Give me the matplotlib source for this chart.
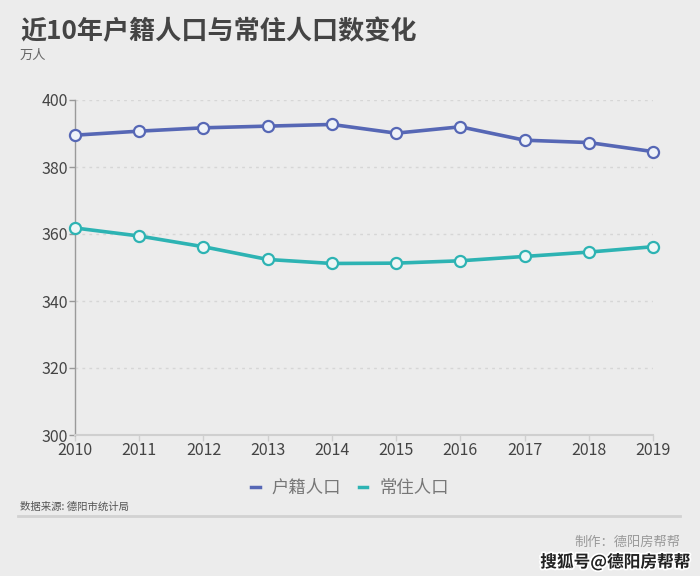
import matplotlib
matplotlib.use("Agg")
import matplotlib.pyplot as plt
import matplotlib.patheffects as pe

plt.rcParams['font.family'] = ['Noto Sans CJK SC', 'DejaVu Sans']

years = [2010, 2011, 2012, 2013, 2014, 2015, 2016, 2017, 2018, 2019]
huji = [389.5, 390.7, 391.7, 392.2, 392.7, 390.1, 392.0, 388.0, 387.3, 384.6]
changzhu = [361.8, 359.4, 356.2, 352.4, 351.2, 351.3, 352.0, 353.3, 354.6, 356.2]
yticks = [300, 320, 340, 360, 380, 400]
series_names = ['户籍人口', '常住人口']

bg = '#ececec'
c_blue = '#5667b5'
c_teal = '#2db3b3'

fig = plt.figure(figsize=(7, 5.76), dpi=100, facecolor=bg)
ax = fig.add_axes([75/700, 1-435/576, (653-75)/700, (435-100)/576])
ax.set_facecolor(bg)

ax.plot(years, huji, color=c_blue, lw=2.6, marker='o', ms=8,
        mfc='#eef2f8', mec=c_blue, mew=1.6, label=series_names[0], zorder=3, clip_on=False)
ax.plot(years, changzhu, color=c_teal, lw=2.6, marker='o', ms=8,
        mfc='#eef6f6', mec=c_teal, mew=1.6, label=series_names[1], zorder=3, clip_on=False)

ax.set_xlim(2010, 2019)
ax.set_ylim(300, 400)
ax.set_xticks(years)
ax.set_yticks(yticks)
ax.tick_params(axis='both', labelsize=11.5, colors='#444444', length=4, width=1)
ax.tick_params(axis='x', color='#cfcfcf', pad=1)
ax.tick_params(axis='y', color='#999999', pad=1)
for lab in ax.get_xticklabels() + ax.get_yticklabels():
    lab.set_color('#444444')

ax.grid(axis='y', ls=(0, (2, 3)), color='#d6d6d6', lw=1)
for s in ['top', 'right']:
    ax.spines[s].set_visible(False)
ax.spines['left'].set_color('#9a9a9a')
ax.spines['left'].set_linewidth(1)
ax.spines['bottom'].set_color('#cfcfcf')
ax.spines['bottom'].set_linewidth(1.5)

leg = fig.legend(loc='center', bbox_to_anchor=(350/700, 1-488/576), ncol=2, frameon=False,
                 fontsize=12.5, handlelength=0.5, handletextpad=0.7, columnspacing=1.0)
for h in leg.legend_handles:
    h.set_marker('')
    h.set_linewidth(2.5)
for t in leg.get_texts():
    t.set_color('#777777')

fig.text(20/700, 1-32/576, '近10年户籍人口与常住人口数变化', fontsize=18.8, fontweight='bold',
         color='#444444', va='center', ha='left')
fig.text(20/700, 1-55/576, '万人', fontsize=9.5, color='#666666', va='center', ha='left')
fig.text(20/700, 1-507/576, '数据来源: 德阳市统计局', fontsize=7.5, color='#555555', va='center', ha='left')
fig.add_artist(plt.Line2D([18/700, 680/700], [1-516/576, 1-516/576], color='#d2d2d2', lw=2))
fig.text(680/700, 1-542/576, '制作：德阳房帮帮', fontsize=9.5, color='#999999', va='center', ha='right')
fig.text(690/700, 1-562/576, '搜狐号@德阳房帮帮', fontsize=12, fontweight='bold', color='#222222',
         va='center', ha='right',
         path_effects=[pe.withStroke(linewidth=2.5, foreground='white')])

fig.savefig('out.png', dpi=100, facecolor=bg)
